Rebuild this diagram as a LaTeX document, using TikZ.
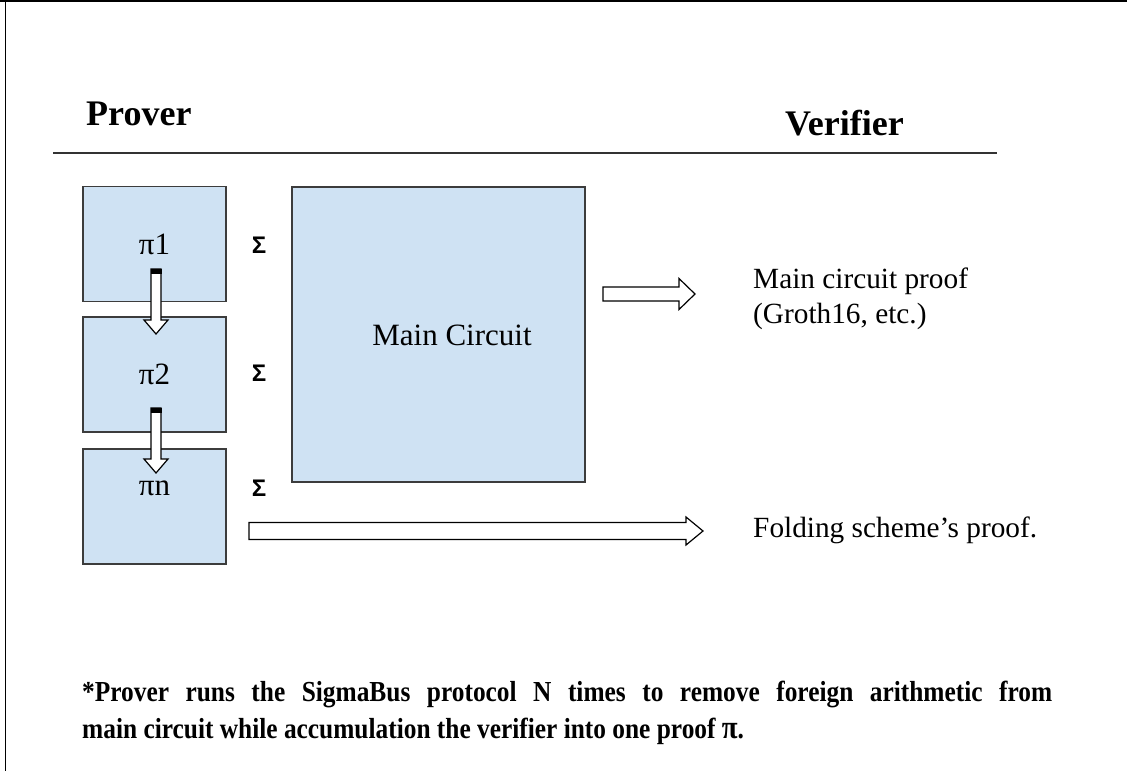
\documentclass[tikz,border=0pt]{standalone}
\usepackage{fontspec}
\setmainfont{Liberation Serif}
\newfontfamily\sigfont{Liberation Sans}
\newfontfamily\notefont[FakeStretch=0.875]{Liberation Serif}
\usetikzlibrary{positioning}
\definecolor{boxblue}{RGB}{207,226,243}
\definecolor{boxline}{RGB}{60,60,60}

\begin{document}
\begin{tikzpicture}[x=1pt,y=-1pt,
  pibox/.style={draw=boxline, fill=boxblue, line width=1.2pt, inner sep=0pt,
    minimum width=143pt, minimum height=115pt, font=\fontsize{31}{36}\selectfont},
  sig/.style={inner sep=0pt, font=\sigfont\bfseries\fontsize{24}{26}\selectfont},
  head/.style={inner sep=0pt, anchor=base west, font=\bfseries\fontsize{36}{40}\selectfont},
  rtext/.style={inner sep=0pt, anchor=base west, font=\fontsize{29.3}{35}\selectfont},
  note/.style={inner sep=0pt, anchor=base west, font=\notefont\bfseries\fontsize{29}{37}\selectfont},
  blockarrow/.style={draw=black, fill=white, line width=1.2pt, line join=miter}]
\useasboundingbox (0,0) rectangle (1127,771);
% frame lines
\draw[line width=2.5pt] (0,1) -- (1127,1);
\draw[line width=1.8pt] (5.5,0) -- (5.5,771);

% headings
\node[head] (prover) at (86,125) {Prover};
\node[head] (verifier) at (785,135) {Verifier};
\draw[line width=1.5pt, color=black!80] (53,153) -- (997,153);

% proof boxes
\node[pibox] (p1) at (154.5,244) {π1};
\node[pibox] (p2) at (154.5,374.5) {π2};
\node[pibox] (pn) at (154.5,506.5) {};
\node[inner sep=0pt, font=\fontsize{31}{36}\selectfont] (pnt) at (154.5,488) {πn};
\node[draw=boxline, fill=boxblue, line width=1.2pt, minimum width=293pt,
  minimum height=295pt] (mc) at (438.5,334.5) {};
\node[inner sep=0pt, font=\fontsize{31}{36}\selectfont] (mct) at (452,335) {Main Circuit};

\foreach \name/\y in {s1/245, s2/373, sn/488}
  \node[sig] (\name) at (259,\y) {Σ};

% arrows between the proofs
\coordinate (d1) at (156,269);
\coordinate (d2) at (156,408);
\foreach \c in {d1,d2} {
  \draw[blockarrow] (\c) ++(-5,0) -- ++(0,51) -- ++(-7,0) -- ++(12,14)
    -- ++(12,-14) -- ++(-7,0) -- ++(0,-51) -- cycle;
  \fill (\c) ++(-5.5,0) rectangle ++(11,5);
}

% arrows to the verifier
\coordinate (ra) at (603,294);
\draw[blockarrow] (ra) ++(0,-7) -- ++(76,0) -- ++(0,-8.5) -- ++(16,15.5)
  -- ++(-16,15.5) -- ++(0,-8.5) -- ++(-76,0) -- cycle;
\coordinate (fa) at (249,531);
\draw[blockarrow] (fa) ++(0,-8.5) -- ++(437,0) -- ++(0,-5.5) -- ++(17,14)
  -- ++(-17,14) -- ++(0,-5.5) -- ++(-437,0) -- cycle;

\node[rtext] (mp) at (753,288) {Main circuit proof};
\node[rtext] (gr) at (753,323) {(Groth16, etc.)};
\node[rtext] (fp) at (753,537) {Folding scheme’s proof.};

% footnote (first line justified)
\node[note] (n1) at (82,701) {\makebox[970pt][s]{*Prover runs the SigmaBus protocol N times to remove foreign arithmetic from}};
\node[note] (n2) at (82,738) {main circuit while accumulation the verifier into one proof {\fontsize{33}{37}\selectfont π}.};
\end{tikzpicture}
\end{document}
